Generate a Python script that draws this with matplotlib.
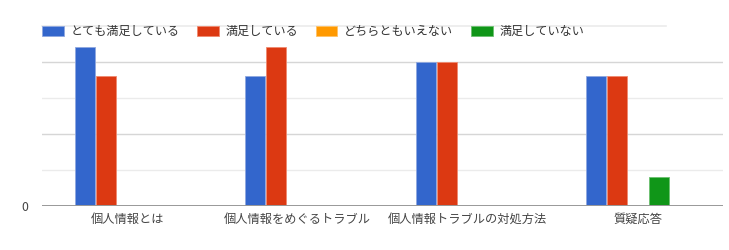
import matplotlib
matplotlib.use("Agg")
import matplotlib.pyplot as plt
import numpy as np

plt.rcParams['font.family'] = ['Noto Sans CJK JP', 'DejaVu Sans']

categories = ["個人情報とは", "個人情報をめぐるトラブル", "個人情報トラブルの対処方法", "質疑応答"]
series_names = ["とても満足している", "満足している", "どちらともいえない", "満足していない"]
very_satisfied = [11, 9, 10, 9]
satisfied = [9, 11, 10, 9]
neutral = [0, 0, 0, 0]
not_satisfied = [0, 0, 0, 2]
series_values = [very_satisfied, satisfied, neutral, not_satisfied]
colors = ["#3366cc", "#dc3912", "#ff9900", "#109618"]
edge_colors = ["#8fa8e0", "#f08a70", "#ffc266", "#6cc070"]

W, H = 729, 250
fig = plt.figure(figsize=(W / 100, H / 100), dpi=100)
left_px, right_px = 42, 723
zero_px, top_px = 205.7, 25.5
ax = fig.add_axes([left_px / W, 1 - zero_px / H, (right_px - left_px) / W, (zero_px - top_px) / H])

x = np.arange(len(categories))
slot = 21 / 170.25
handles = []
for i, (name, vals) in enumerate(zip(series_names, series_values)):
    b = ax.bar(x + (i - 2) * slot, vals,
               width=slot * 0.95, color=colors[i], edgecolor=edge_colors[i],
               linewidth=0.6, label=name, zorder=3)
    handles.append(b)

ax.set_xlim(-0.5, len(categories) - 0.5)
ax.set_ylim(0, 12.5)

for yv in [2.5, 7.5]:
    ax.axhline(yv, color="#ebebeb", lw=1.0, zorder=1)
for yv in [5, 10]:
    ax.axhline(yv, color="#d6d6d6", lw=1.0, zorder=1)
ax.axhline(12.5, xmin=0, xmax=0.916, color="#ebebeb", lw=1.2, zorder=1, clip_on=False)
ax.axhline(0, color="#999999", lw=1.4, zorder=4)

for s in ax.spines.values():
    s.set_visible(False)
ax.set_yticks([0])
ax.set_yticklabels(["0"])
ax.set_xticks(x)
ax.set_xticklabels(categories)
ax.tick_params(axis='both', length=0, labelsize=8.8, colors="#444444")
ax.tick_params(axis='y', pad=10)
ax.tick_params(axis='x', pad=5)

leg = fig.legend(handles=handles, labels=series_names, loc='center left',
                 bbox_to_anchor=(42 / W, 1 - 31.7 / H), ncol=4, frameon=False,
                 fontsize=8.7, handlelength=1.8, handleheight=0.82,
                 handletextpad=0.55, columnspacing=1.45, borderpad=0, borderaxespad=0)
for t in leg.get_texts():
    t.set_color("#333333")

fig.savefig("out.png", dpi=100)
